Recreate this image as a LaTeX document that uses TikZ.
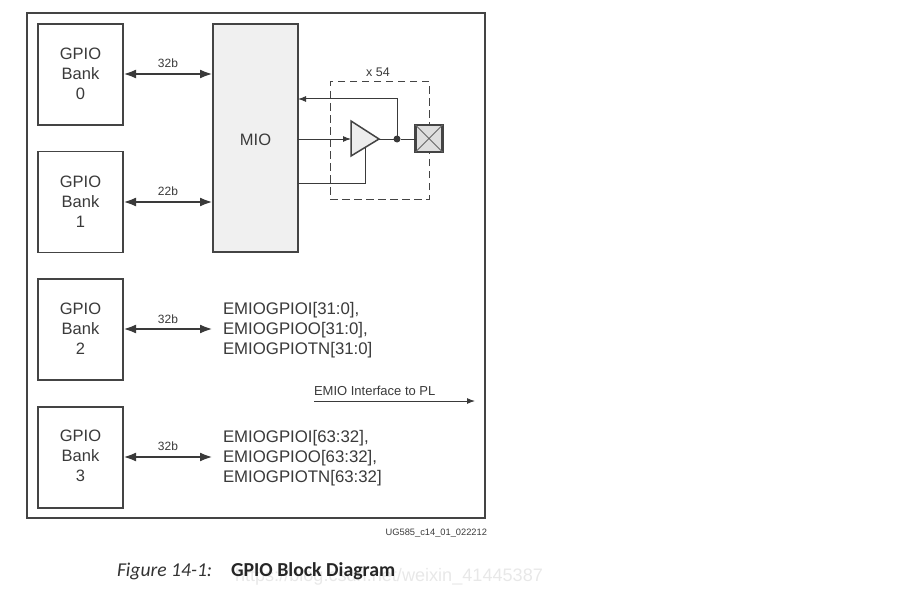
\documentclass[tikz,border=0pt]{standalone}
\usepackage{fontspec}
\setmainfont{Liberation Sans}
\newfontfamily\capfont{Carlito}
\usetikzlibrary{arrows.meta,calc}
\definecolor{ink}{HTML}{3A3A3A}
\definecolor{frameink}{HTML}{444444}
\tikzset{
  x=1pt,y=-1pt,
  every node/.style={text=ink,inner sep=0pt,outer sep=0pt},
  block/.style={draw=frameink,line width=1.8pt,fill=white},
  bankbox/.style={block,minimum width=85pt,minimum height=101pt,align=center,font=\fontsize{16.5}{20}\selectfont},
  bus/.style={draw=ink,line width=2.8pt,{Latex[length=13pt,width=9pt]}-{Latex[length=13pt,width=9pt]}},
  wire/.style={draw=ink,line width=1pt},
  buslabel/.style={font=\fontsize{12}{14}\selectfont},
  sigtext/.style={font=\fontsize{16.8}{20}\selectfont,align=left,anchor=west},
  tip/.style={-{Latex[length=8pt,width=6pt]}}
}
\begin{document}
\begin{tikzpicture}
\useasboundingbox (0,0) rectangle (906,602);
% Outer enclosure
\node[block,anchor=north west,minimum width=458pt,minimum height=505pt] (outer) at (27,13) {};
% GPIO banks
\node[bankbox] (bank0) at (80.5,74.5) {};
\node[bankbox] (bank1) at (80.5,202) {};
\node[bankbox] (bank2) at (80.5,329.5) {};
\node[bankbox] (bank3) at (80.5,457.5) {};
\node[align=center,font=\fontsize{16.5}{20}\selectfont] (bt0) at (80.5,73.5) {GPIO\\Bank\\0};
\node[align=center,font=\fontsize{16.5}{20}\selectfont] (bt1) at (80.5,201.5) {GPIO\\Bank\\1};
\node[align=center,font=\fontsize{16.5}{20}\selectfont] (bt2) at (80.5,328.5) {GPIO\\Bank\\2};
\node[align=center,font=\fontsize{16.5}{20}\selectfont] (bt3) at (80.5,456) {GPIO\\Bank\\3};
% MIO block
\node[block,fill=black!6,minimum width=85pt,minimum height=228pt] (mio) at (255.5,138) {};
\node[anchor=center,font=\fontsize{16.5}{20}\selectfont] (miotext) at (255.5,140) {MIO};
% Free ends of the EMIO buses
\coordinate (end2) at (213,329);
\coordinate (end3) at (213,457);
% Buses
\draw[bus] (bank0.east |- 0,74) -- (mio.west |- 0,74);
\draw[bus] (bank1.east |- 0,202) -- (mio.west |- 0,202);
\draw[bus] (bank2.east |- end2) -- (end2);
\draw[bus] (bank3.east |- end3) -- (end3);
\node[buslabel] (w0) at (168,63) {32b};
\node[buslabel] (w1) at (168,191) {22b};
\node[buslabel] (w2) at (168,319) {32b};
\node[buslabel] (w3) at (168,446) {32b};
% EMIO signal lists
\node[sigtext] (sig2) at (223,330) {EMIOGPIOI[31:0],\\EMIOGPIOO[31:0],\\EMIOGPIOTN[31:0]};
\node[sigtext] (sig3) at (223,458) {EMIOGPIOI[63:32],\\EMIOGPIOO[63:32],\\EMIOGPIOTN[63:32]};
% EMIO direction marker
\node[anchor=west,font=\fontsize{13}{15}\selectfont] (emio) at (314,391) {EMIO Interface to PL};
\coordinate (emioa) at (314,401);
\coordinate (emiob) at (475,401);
\draw[wire,tip] (emioa) -- (emiob);
% Repeated I/O cell
\node[draw=frameink,line width=1pt,dash pattern=on 7.5pt off 4.5pt,anchor=north west,minimum width=99pt,minimum height=117pt] (cell) at (330,82) {};
\node[font=\fontsize{12.5}{15}\selectfont] (x54) at (378,72) {x 54};
% Output buffer
\coordinate (ba) at (351,121);
\coordinate (bb) at (351,156);
\coordinate (bc) at (379,139);
\draw[frameink,line width=1.5pt,fill=black!7,line join=miter] (ba) -- (bc) -- (bb) -- cycle;
\node[circle,fill=ink,minimum size=7pt] (dot) at (397,139) {};
% I/O pad
\node[draw=frameink,line width=2.2pt,fill=black!13,minimum width=27pt,minimum height=27pt,anchor=center] (pad) at (429,138.5) {};
\draw[black!60,line width=0.9pt] (pad.north west) -- (pad.south east) (pad.north east) -- (pad.south west);
% Cell wiring
\draw[wire,tip] (mio.east |- bc) -- (ba |- bc);
\draw[wire] (bc) -- (dot) -- (pad.west |- dot);
\draw[wire,tip] (dot) -- (397,99) -- (mio.east |- 0,99);
\draw[wire] (mio.east |- 0,183) -- (365,183) -- (365,148);
% Document identifier and caption
\node[anchor=east,font=\fontsize{9.3}{11}\selectfont] (ug) at (487,533.5) {UG585\_c14\_01\_022212};
\node[anchor=base west,text=black!9,font=\fontsize{18.1}{20}\selectfont] (mark) at (235,581) {https://blog.csdn.net/weixin\_41445387};
\node[anchor=base west,text=black!80,font=\capfont\itshape\fontsize{19.6}{22}\selectfont] (figno) at (117,576) {Figure 14-1:};
\node[anchor=base west,text=black!85,font=\capfont\bfseries\fontsize{19.8}{22}\selectfont] (figtitle) at (231,576) {GPIO Block Diagram};
\end{tikzpicture}
\end{document}
